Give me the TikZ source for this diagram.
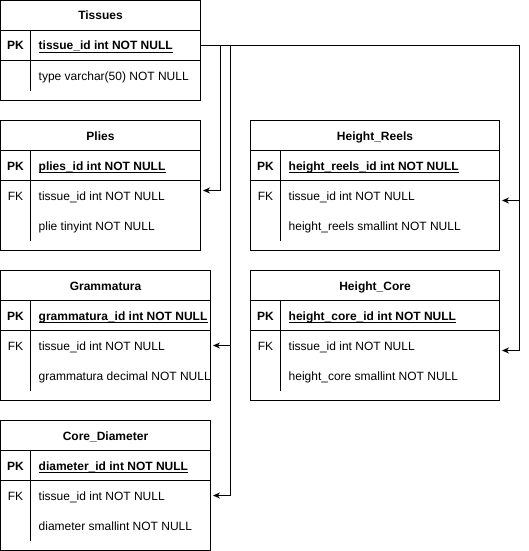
\documentclass[tikz,border=0pt]{standalone}
\usepackage{fontspec}
\setmainfont{Liberation Sans}
\usetikzlibrary{arrows.meta}
\tikzset{
  tbl/.style={draw, line width=1pt, inner sep=0pt, outer sep=0pt, anchor=north west},
  sep/.style={line width=1pt},
  hdr/.style={font=\fontsize{12}{14}\selectfont\bfseries, anchor=base, inner sep=0pt},
  keylab/.style={font=\fontsize{12}{14}\selectfont\bfseries, anchor=base, inner sep=0pt},
  fklab/.style={font=\fontsize{12}{14}\selectfont, anchor=base, inner sep=0pt},
  pkfld/.style={font=\fontsize{12}{14}\selectfont\bfseries, anchor=base west, inner sep=0pt},
  fld/.style={font=\fontsize{12}{14}\selectfont, anchor=base west, inner sep=0pt},
  uline/.style={line width=0.9pt},
  fkarrow/.style={line width=1pt, -{Stealth[length=7pt,width=6pt]}, shorten >=2.5pt},
}
% #1 name, #2 x, #3 y, #4 width, #5 height, #6 title, #7 PK field
\newcommand\ertable[7]{%
  \node[tbl, minimum width=#4pt, minimum height=#5pt] (#1) at (#2,#3) {};
  \draw[sep] (#2,#3+30) -- ++(#4,0);
  \draw[sep] (#2,#3+60) -- ++(#4,0);
  \draw[sep] (#2+30,#3+30) -- (#2+30,#3+#5-10);
  \node[hdr] (#1-title) at (#2+#4/2,#3+19.5) {#6};
  \node[keylab] (#1-pklab) at (#2+15,#3+49.5) {PK};
  \node[pkfld] (#1-pk) at (#2+38,#3+49.5) {#7};
  \draw[uline] ([yshift=-2.3pt]#1-pk.base west) -- ([yshift=-2.3pt]#1-pk.base east);
}
\begin{document}
\begin{tikzpicture}[x=1pt,y=-1pt]
\useasboundingbox (-0.5,-0.5) rectangle (527.5,550.5);

% Tissues
\ertable{tissues}{0}{0}{200}{100}{Tissues}{tissue\_id int NOT NULL}
\node[fld] (tissues-f2) at (38,79.5) {type varchar(50) NOT NULL};

% Plies
\ertable{plies}{0}{120}{200}{130}{Plies}{plies\_id int NOT NULL}
\node[fklab] (plies-fklab) at (15,199.5) {FK};
\node[fld] (plies-f2) at (38,199.5) {tissue\_id int NOT NULL};
\node[fld] (plies-f3) at (38,229.5) {plie tinyint NOT NULL};

% Grammatura
\ertable{gram}{0}{270}{210}{130}{Grammatura}{grammatura\_id int NOT NULL}
\node[fklab] (gram-fklab) at (15,349.5) {FK};
\node[fld] (gram-f2) at (38,349.5) {tissue\_id int NOT NULL};
\node[fld] (gram-f3) at (38,379.5) {grammatura decimal NOT NULL};

% Core_Diameter
\ertable{cd}{0}{420}{210}{130}{Core\_Diameter}{diameter\_id int NOT NULL}
\node[fklab] (cd-fklab) at (15,499.5) {FK};
\node[fld] (cd-f2) at (38,499.5) {tissue\_id int NOT NULL};
\node[fld] (cd-f3) at (38,529.5) {diameter smallint NOT NULL};

% Height_Reels
\ertable{hr}{250}{120}{249}{130}{Height\_Reels}{height\_reels\_id int NOT NULL}
\node[fklab] (hr-fklab) at (265,199.5) {FK};
\node[fld] (hr-f2) at (288,199.5) {tissue\_id int NOT NULL};
\node[fld] (hr-f3) at (288,229.5) {height\_reels smallint NOT NULL};

% Height_Core
\ertable{hc}{250}{270}{249}{130}{Height\_Core}{height\_core\_id int NOT NULL}
\node[fklab] (hc-fklab) at (265,349.5) {FK};
\node[fld] (hc-f2) at (288,349.5) {tissue\_id int NOT NULL};
\node[fld] (hc-f3) at (288,379.5) {height\_core smallint NOT NULL};

% connector end points
\coordinate (tissues-out) at (200,45);
\coordinate (plies-in) at (200,190);
\coordinate (gram-in) at (210,345);
\coordinate (cd-in) at (210,495);
\coordinate (hr-in) at (499,200);
\coordinate (hc-in) at (499,350);

\draw[fkarrow] (tissues-out) -| ([xshift=20pt]plies-in) -- (plies-in);
\draw[fkarrow] (tissues-out) -| ([xshift=20pt]gram-in) -- (gram-in);
\draw[fkarrow] (tissues-out) -| ([xshift=20pt]cd-in) -- (cd-in);
\draw[fkarrow] (tissues-out) -| ([xshift=20pt]hr-in) -- (hr-in);
\draw[fkarrow] (tissues-out) -| ([xshift=20pt]hc-in) -- (hc-in);
\end{tikzpicture}
\end{document}
